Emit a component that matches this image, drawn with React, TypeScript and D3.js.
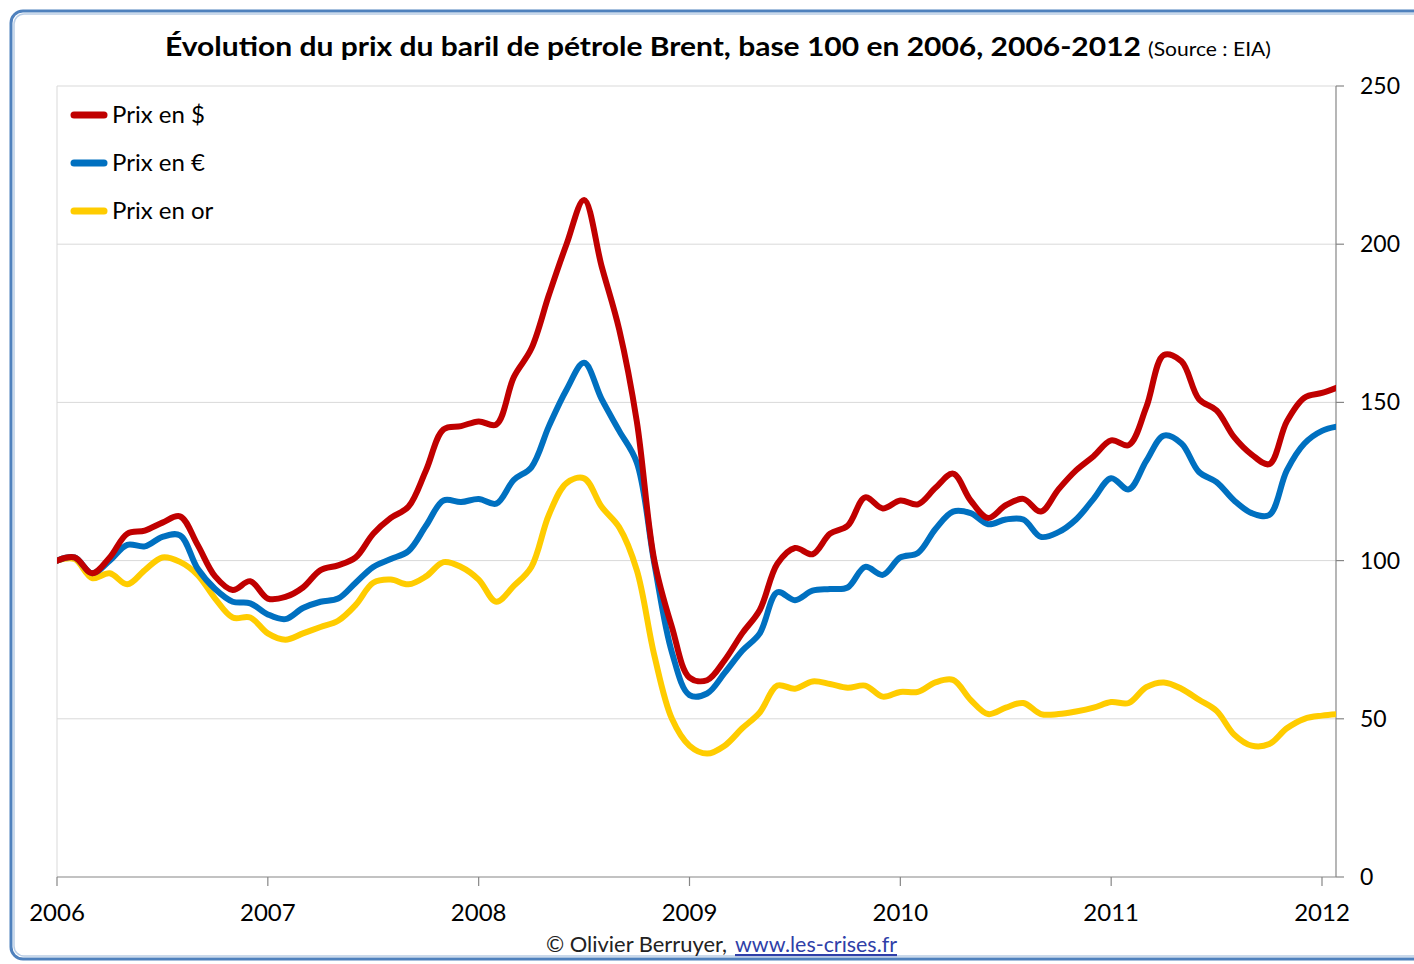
import React from "react";
import * as d3 from "d3";

const W = 1414;
const H = 964;

const yearLabels = ["2006", "2007", "2008", "2009", "2010", "2011", "2012"];
const yTicks = [0, 50, 100, 150, 200, 250];

const seriesNames = ["Prix en $", "Prix en €", "Prix en or"];
const seriesColors = ["#c00000", "#0070c0", "#ffcc00"];

// monthly values, Jan 2006 .. Feb 2012 (base 100 = Jan 2006)
const prixDollar = [
  100, 101, 96, 101, 108.5, 109.5, 112, 114, 105, 95, 90.7, 93.5,
  88, 88.5, 91.5, 97, 98.5, 101, 108.5, 113.5, 117, 128.5, 141.5, 142.5,
  144, 143, 158, 167, 184, 200, 214, 193, 173, 144, 100, 79,
  63, 62.2, 68.5, 77, 84.4, 99, 104, 102, 108.5, 111, 120, 116.5,
  119, 117.8, 123, 127.5, 119, 113.5, 117.5, 119.5, 115.5, 122.5, 128.5, 133,
  138, 136.5, 148.5, 165, 163, 151, 147.5, 139, 133.5, 130.5, 144, 151.5,
  153, 155,
];
const prixEuro = [
  100, 101, 96, 100, 105, 104.5, 107.5, 108, 97.5, 91, 87, 86.5,
  83, 81.5, 85, 87, 88, 93, 98, 100.5, 103, 111, 119, 118.5,
  119.5, 118, 125.5, 129.5, 142.5, 154, 162.5, 151, 141, 131, 99, 71,
  57.5, 58, 64.5, 71.5, 77, 90, 87.5, 90.5, 91, 91.5, 98, 95.5,
  101, 102.4, 110, 115.5, 115, 111.5, 113, 113, 107.5, 109, 113, 119.5,
  126, 122.5, 131.5, 139.5, 137, 128, 124.8, 119, 115, 114.4, 128.5, 137,
  141, 142.5,
];
const prixOr = [
  100, 100.5, 94.5, 96, 92.5, 97, 101, 99.6, 95.5, 88, 82, 82,
  77, 75, 77, 79, 81, 86, 93, 94, 92.5, 95, 99.5, 98,
  94, 87, 92, 98, 114.5, 124.5, 126, 117, 110.5, 97, 70, 50,
  41.5, 39, 41.5, 47, 52, 60.5, 59.5, 61.8, 61, 59.8, 60.5, 57,
  58.5, 58.5, 61.5, 62.3, 56, 51.5, 53.5, 55, 51.5, 51.5, 52.3, 53.5,
  55.3, 55, 60, 61.5, 59.5, 56, 52.5, 45, 41.5, 42, 47, 50,
  51, 51.5,
];

const allSeries = [prixDollar, prixEuro, prixOr];

const plotLeft = 57;
const plotRight = 1336;
const plotTop = 86;
const plotBottom = 877;

export default function App() {
  const x = d3.scaleLinear().domain([0, 72]).range([57, 1322]);
  const y = d3.scaleLinear().domain([0, 250]).range([plotBottom, plotTop]);

  const line = d3
    .line<number>()
    .x((_, i) => x(i))
    .y((d) => y(d))
    .curve(d3.curveCatmullRom.alpha(0.5));

  const font = "Lato, 'Open Sans', sans-serif";

  return (
    <svg width={W} height={H} style={{ display: "block", position: "absolute", left: 0, top: 0 }} fontFamily={font}>
      <defs>
        <clipPath id="plotClip">
          <rect x={plotLeft} y={plotTop - 20} width={plotRight - plotLeft} height={plotBottom - plotTop + 40} />
        </clipPath>
      </defs>
      <rect x={0} y={0} width={W} height={H} fill="#ffffff" />
      {/* frame */}
      <rect x={11} y={11} width={1430} height={948} rx={12} fill="#ffffff" stroke="#4f81bd" strokeWidth={3} />
      <rect x={14} y={14} width={1424} height={942} rx={10} fill="none" stroke="#b9cde5" strokeWidth={1.5} />

      {/* title */}
      <text x={165} y={56} fontSize={27} fontWeight="bold" fill="#000" textLength={976} lengthAdjust="spacingAndGlyphs">
        Évolution du prix du baril de pétrole Brent, base 100 en 2006, 2006-2012
      </text>
      <text x={1148} y={56} fontSize={20} fill="#000" textLength={123} lengthAdjust="spacingAndGlyphs">
        (Source : EIA)
      </text>

      {/* gridlines */}
      {yTicks.filter((t) => t > 0).map((t) => (
        <line key={t} x1={plotLeft} x2={plotRight} y1={y(t)} y2={y(t)} stroke="#d9d9d9" strokeWidth={1} />
      ))}
      <line x1={plotLeft} x2={plotLeft} y1={plotTop} y2={plotBottom} stroke="#d9d9d9" strokeWidth={1} />

      {/* axes */}
      <line x1={plotLeft} x2={plotRight} y1={plotBottom} y2={plotBottom} stroke="#868686" strokeWidth={1.2} />
      <line x1={plotRight} x2={plotRight} y1={plotTop} y2={plotBottom} stroke="#868686" strokeWidth={1.2} />
      {yTicks.map((t) => (
        <g key={t}>
          <line x1={plotRight} x2={plotRight + 8} y1={y(t)} y2={y(t)} stroke="#868686" strokeWidth={1.2} />
          <text x={plotRight + 24} y={y(t) + 8} fontSize={23} fill="#000">
            {t}
          </text>
        </g>
      ))}
      {yearLabels.map((lab, i) => (
        <g key={lab}>
          <line x1={x(i * 12)} x2={x(i * 12)} y1={plotBottom} y2={plotBottom + 9} stroke="#868686" strokeWidth={1.2} />
          <text x={x(i * 12)} y={921} fontSize={24} textAnchor="middle" fill="#000">
            {lab}
          </text>
        </g>
      ))}

      {/* lines */}
      <g clipPath="url(#plotClip)">
        {allSeries
          .map((s, i) => ({ s, i }))
          .reverse()
          .map(({ s, i }) => (
            <path
              key={i}
              d={line(s) || ""}
              fill="none"
              stroke={seriesColors[i]}
              strokeWidth={6}
              strokeLinejoin="round"
              strokeLinecap="round"
            />
          ))}
      </g>

      {/* legend */}
      {seriesNames.map((name, i) => (
        <g key={name}>
          <line x1={74} x2={104} y1={115 + i * 48} y2={115 + i * 48} stroke={seriesColors[i]} strokeWidth={7} strokeLinecap="round" />
          <text x={112} y={123 + i * 48} fontSize={24} fill="#000">
            {name}
          </text>
        </g>
      ))}

      {/* footer */}
      <text x={546} y={952} fontSize={21} fill="#222" textLength={181} lengthAdjust="spacingAndGlyphs">
        © Olivier Berruyer,
      </text>
      <text x={735} y={952} fontSize={21} fill="#2f3fa8" textDecoration="underline" textLength={162} lengthAdjust="spacingAndGlyphs">
        www.les-crises.fr
      </text>
    </svg>
  );
}
